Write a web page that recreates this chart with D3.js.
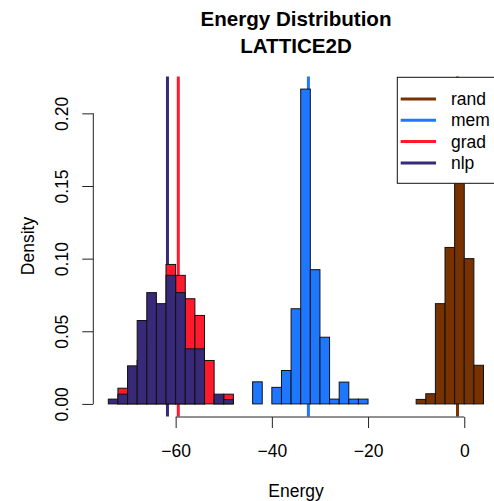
<!DOCTYPE html>
<html>
<head>
<meta charset="utf-8">
<script src="https://cdn.jsdelivr.net/npm/d3@7"></script>
<style>
  body { margin: 0; background: #fff; }
  text { font-family: "Liberation Sans", Arial, sans-serif; }
</style>
</head>
<body>
<div id="chart"></div>
<script>
// shared histogram breaks: -74, -72, ... , 4
var breakStart = -74, binWidth = 2, binCount = 39;

var seriesNames = ["rand", "mem", "grad", "nlp"];
var seriesColors = ["#783200", "#1e78ff", "#ff1a2e", "#382a78"];
var seriesMeans = [-1.4, -32.4, -59.45, -61.7];

// density per bin (39 bins from -74 to 4)
var randDensity = [0,0,0,0,0,0,0,0,0,0, 0,0,0,0,0,0,0,0,0,0,
                   0,0,0,0,0,0,0,0,0,0, 0,0,0.0031,0.007,0.069,0.1077,0.187,0.1,0.0266];
var memDensity  = [0,0,0,0,0,0,0,0,0,0, 0,0,0,0,0,0.0152,0,0.0114,0.023,0.0655,
                   0.2167,0.0924,0.0459,0.0033,0.015,0.0033,0.0033,0,0,0, 0,0,0,0,0,0,0,0,0];
var gradDensity = [0,0.0108,0.015,0.03,0.045,0.055,0.096,0.0885,0.0724,0.0609,
                   0.0299,0.003,0.0067,0,0,0,0,0,0,0, 0,0,0,0,0,0,0,0,0,0, 0,0,0,0,0,0,0,0,0];
var nlpDensity  = [0.0033,0.0067,0.0262,0.0574,0.0766,0.069,0.0885,0.0766,0.0379,0.0379,
                   0,0.0067,0.003,0,0,0,0,0,0,0, 0,0,0,0,0,0,0,0,0,0, 0,0,0,0,0,0,0,0,0];

var xTicks = [-60, -40, -20, 0];
var yTicks = [0, 0.05, 0.10, 0.15, 0.20];

var width = 494, height = 501;
var xMin = -74, xMax = 4, yMax = 0.2167;

var svg = d3.select("#chart")
    .append("svg")
    .attr("width", width)
    .attr("height", height);

// R style 4% padding on both axes
var x = d3.scaleLinear()
    .domain([xMin - 0.04 * (xMax - xMin), xMax + 0.04 * (xMax - xMin)])
    .range([93.3, 498.5]);
var y = d3.scaleLinear()
    .domain([-0.04 * yMax, 1.04 * yMax])
    .range([416.5, 76.5]);

var densities = [randDensity, memDensity, gradDensity, nlpDensity];

// mean lines (drawn under the bars)
svg.append("g")
    .selectAll("line")
    .data(seriesMeans)
    .enter().append("line")
    .attr("x1", function (d) { return x(d); })
    .attr("x2", function (d) { return x(d); })
    .attr("y1", y.range()[0])
    .attr("y2", y.range()[1])
    .attr("stroke", function (d, i) { return seriesColors[i]; })
    .attr("stroke-width", 3);

// histograms
densities.forEach(function (vals, s) {
    var bins = vals.map(function (v, i) {
        return { x0: breakStart + i * binWidth, x1: breakStart + (i + 1) * binWidth, d: v };
    });
    svg.append("g")
        .attr("class", "hist " + seriesNames[s])
        .selectAll("rect")
        .data(bins)
        .enter().append("rect")
        .attr("x", function (d) { return x(d.x0); })
        .attr("width", function (d) { return x(d.x1) - x(d.x0); })
        .attr("y", function (d) { return y(d.d); })
        .attr("height", function (d) { return y(0) - y(d.d); })
        .attr("fill", seriesColors[s])
        .attr("stroke", "#111")
        .attr("stroke-width", 1);
});

// x axis
var xAxis = svg.append("g")
    .attr("transform", "translate(0,417)")
    .call(d3.axisBottom(x).tickValues(xTicks).tickSize(11));
xAxis.select(".domain").remove();
xAxis.append("line")
    .attr("x1", x(xTicks[0]))
    .attr("x2", x(xTicks[xTicks.length - 1]))
    .attr("stroke", "#222");
xAxis.selectAll(".tick line").attr("stroke", "#222");
xAxis.selectAll("text")
    .attr("y", 39.7)
    .attr("dy", 0)
    .attr("fill", "#000")
    .style("font-size", "17.5px");

// y axis
var yAxis = svg.append("g")
    .attr("transform", "translate(93.3,0)")
    .call(d3.axisLeft(y).tickValues(yTicks).tickSize(11).tickFormat(d3.format(".2f")));
yAxis.select(".domain").remove();
yAxis.append("line")
    .attr("y1", y(yTicks[0]))
    .attr("y2", y(yTicks[yTicks.length - 1]))
    .attr("stroke", "#222");
yAxis.selectAll(".tick line").attr("stroke", "#222");
yAxis.selectAll("text")
    .attr("x", 0)
    .attr("y", -25)
    .attr("dy", 0)
    .attr("text-anchor", "middle")
    .attr("transform", "rotate(-90)")
    .attr("fill", "#000")
    .style("font-size", "17.5px");

// titles
svg.append("text")
    .attr("x", 296)
    .attr("y", 26)
    .attr("text-anchor", "middle")
    .style("font-size", "20.6px")
    .style("font-weight", "bold")
    .text("Energy Distribution");
svg.append("text")
    .attr("x", 296)
    .attr("y", 53)
    .attr("text-anchor", "middle")
    .style("font-size", "20.6px")
    .style("font-weight", "bold")
    .text("LATTICE2D");

svg.append("text")
    .attr("x", 296)
    .attr("y", 497)
    .attr("text-anchor", "middle")
    .style("font-size", "17.5px")
    .text("Energy");
svg.append("text")
    .attr("transform", "translate(34,246) rotate(-90)")
    .attr("text-anchor", "middle")
    .style("font-size", "17.5px")
    .text("Density");

// legend
var legend = svg.append("g")
    .attr("transform", "translate(397.3,77.3)");
legend.append("rect")
    .attr("width", 110)
    .attr("height", 106)
    .attr("fill", "#fff")
    .attr("stroke", "#111");
var item = legend.selectAll(".item")
    .data(seriesNames)
    .enter().append("g")
    .attr("class", "item")
    .attr("transform", function (d, i) { return "translate(0," + (21.7 + i * 21.3) + ")"; });
item.append("line")
    .attr("x1", 3.4)
    .attr("x2", 38.7)
    .attr("stroke", function (d, i) { return seriesColors[i]; })
    .attr("stroke-width", 3);
item.append("text")
    .attr("x", 53.7)
    .attr("y", 6)
    .style("font-size", "17.5px")
    .text(function (d) { return d; });
</script>
</body>
</html>
